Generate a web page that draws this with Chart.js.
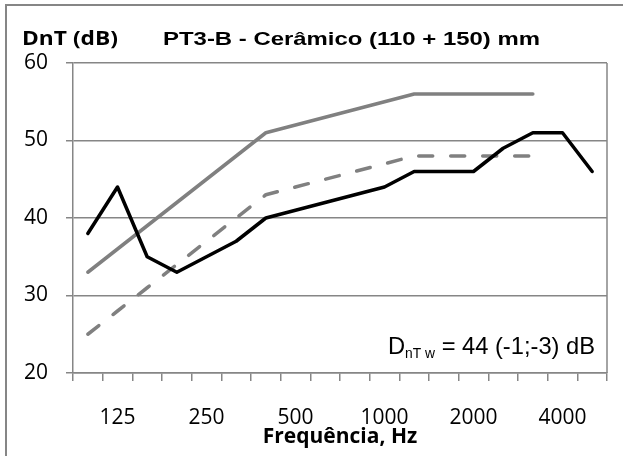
<!DOCTYPE html>
<html>
<head>
<meta charset="utf-8">
<script src="https://cdn.jsdelivr.net/npm/chart.js@4/dist/chart.umd.min.js"></script>
<style>
  html, body { margin: 0; padding: 0; background: #fff; }
  #wrap { width: 623px; height: 456px; position: relative; }
</style>
</head>
<body>
<div id="wrap"><canvas id="c" width="623" height="456"></canvas></div>
<script>
// One-third octave bands, Hz
const bands = ['100','125','160','200','250','315','400','500','630','800','1000','1250','1600','2000','2500','3150','4000','5000'];
// Octave centres that get a label on the frequency axis
const tickLabels = ['125','250','500','1000','2000','4000'];
// Measured standardized level difference DnT, dB
const measured = [38,44,35,33,35,37,40,41,42,43,44,46,46,46,49,51,51,46];
// Requirement curve (100–3150 Hz)
const reference = [33,36,39,42,45,48,51,52,53,54,55,56,56,56,56,56,null,null];
// Reference curve shifted to the rating value
const shiftedReference = [25,28,31,34,37,40,43,44,45,46,47,48,48,48,48,48,null,null];
// Vertical axis range
const yMin = 20, yMax = 60, yStep = 10;

const GRID = '#868686';
const GREY = '#808080';

// Draws a run of text pieces starting at x, stretched to a given width
function fitText(ctx, pieces, x, baseline, targetW) {
  let total = 0;
  pieces.forEach(p => { ctx.font = p.font; p.w = ctx.measureText(p.t).width; total += p.w; });
  const s = targetW ? targetW / total : 1;
  ctx.save();
  ctx.translate(x, baseline);
  ctx.scale(s, 1);
  ctx.fillStyle = '#000';
  ctx.textBaseline = 'alphabetic';
  ctx.textAlign = 'left';
  let cx = 0;
  pieces.forEach(p => { ctx.font = p.font; ctx.fillText(p.t, cx, p.dy || 0); cx += p.w; });
  ctx.restore();
}

const decor = {
  id: 'decor',
  afterDraw(chart) {
    const ctx = chart.ctx;
    const a = chart.chartArea;
    ctx.save();
    // chart frame
    ctx.strokeStyle = GRID;
    ctx.lineWidth = 2;
    ctx.strokeRect(6, 5, 700, 600);
    // right edge of the plot area
    ctx.lineWidth = 1.5;
    ctx.beginPath();
    ctx.moveTo(a.right, a.top);
    ctx.lineTo(a.right, a.bottom);
    ctx.stroke();
    ctx.restore();

    fitText(ctx, [{ t: 'DnT (dB)', font: 'bold 19px "Open Sans"' }], 22, 45, 96);
    fitText(ctx, [{ t: 'PT3-B - Cerâmico (110 + 150) mm', font: 'bold 19px "Liberation Sans"' }], 163, 45, 377);
    fitText(ctx, [
      { t: 'D', font: '24px "Liberation Sans"' },
      { t: 'nT w', font: '14px "Liberation Sans"', dy: 4 },
      { t: ' = 44 (-1;-3) dB', font: '24px "Liberation Sans"' }
    ], 388, 354, 207);
  }
};

function build() {
  new Chart(document.getElementById('c'), {
    type: 'line',
    data: {
      labels: bands,
      datasets: [
        { label: 'Medido', data: measured, borderColor: '#000', borderWidth: 3.5 },
        { label: 'Exigência', data: reference, borderColor: GREY, borderWidth: 3.5 },
        { label: 'Curva de referência', data: shiftedReference, borderColor: GREY, borderWidth: 3.5,
          borderDash: [14, 18] }
      ]
    },
    options: {
      responsive: false,
      animation: false,
      devicePixelRatio: 1,
      layout: { padding: { left: 0, top: 63, right: 16, bottom: 0 } },
      elements: {
        point: { radius: 0, hoverRadius: 0 },
        line: { tension: 0, fill: false, borderCapStyle: 'round', borderJoinStyle: 'round' }
      },
      plugins: { legend: { display: false }, title: { display: false }, tooltip: { enabled: false } },
      scales: {
        x: {
          type: 'category',
          offset: true,
          afterFit: s => { s.height = 83; },
          grid: { display: true, offset: true, drawOnChartArea: false, drawTicks: true, tickLength: 8,
                  color: GRID, lineWidth: 1.5 },
          border: { display: true, color: GRID, width: 1.5 },
          ticks: {
            autoSkip: false, maxRotation: 0, minRotation: 0, padding: 24, color: '#000',
            font: { family: '"Open Sans"', size: 21 },
            callback: function (v, i) { return tickLabels.includes(bands[i]) ? bands[i] : ''; }
          },
          title: { display: true, text: 'Frequência, Hz', color: '#000',
                   font: { family: '"Open Sans"', size: 21, weight: 'bold' },
                   padding: { top: 0, bottom: 6 } }
        },
        y: {
          min: yMin, max: yMax,
          afterFit: s => { s.width = 73; },
          grid: { color: GRID, lineWidth: 1.5, tickLength: 7, drawTicks: true },
          border: { display: true, color: GRID, width: 1.5 },
          ticks: { stepSize: yStep, padding: 18, color: '#000', font: { family: '"Open Sans"', size: 21 } }
        }
      }
    },
    plugins: [decor]
  });
}

const fontsToLoad = ['21px "Open Sans"', 'bold 21px "Open Sans"', 'bold 19px "Liberation Sans"', '24px "Liberation Sans"'];
Promise.all(fontsToLoad.map(f => document.fonts.load(f))).then(build, build);
</script>
</body>
</html>
